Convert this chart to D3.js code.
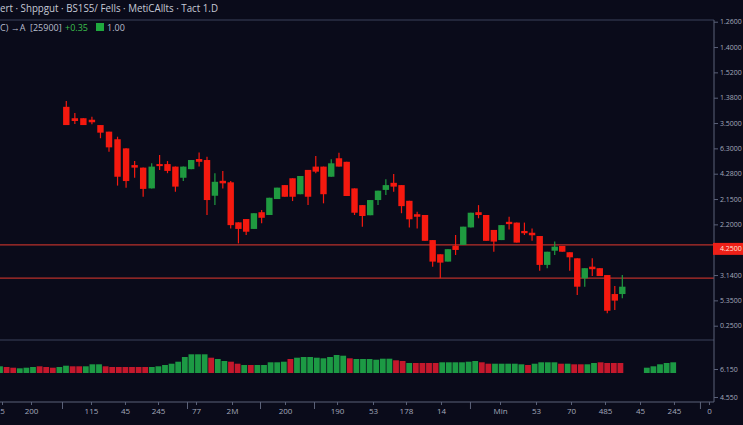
<!DOCTYPE html>
<html><head><meta charset="utf-8">
<script src="https://cdn.jsdelivr.net/npm/d3@7"></script>
<style>
html,body{margin:0;padding:0;background:#0a0b1a;}
svg{display:block;}
text{font-family:"Open Sans","Noto Sans",sans-serif;}
</style></head><body><svg id="c" width="743" height="425"></svg>
<script>
// ---------- data ----------
const titleText = "ert · Shppgut · BS1S5/ Fells · MetiCAllts · Tact 1.D";
const legendSymbol = "C) →A";
const legendCode = "[25900]";
const legendChange = "+0.35";
const legendValue = "1.00";

const candleOpen  = [86.4,81.9,81.9,81.3,79.2,76.6,73.6,70.0,63.4,62.4,54.2,63.8,63.8,62.8,58.4,61.8,65.8,65.4,51.3,57.2,56.6,40.8,42.1,38.2,44.8,43.7,50.0,55.5,58.2,51.9,61.5,62.8,62.8,58.8,66.1,64.7,54.2,47.6,43.6,49.6,53.6,56.4,55.5,49.3,44.0,43.7,33.8,28.2,25.3,31.6,31.9,38.8,44.8,43.7,37.8,33.8,41.0,40.7,37.4,36.7,35.4,24.0,29.6,31.5,29.0,26.6,18.7,23.3,22.7,20.0,12.5,12.5];
const candleHigh  = [88.7,84.0,81.9,82.5,79.2,76.6,74.6,70.0,65.0,62.4,64.1,67.4,65.0,62.8,62.8,65.4,68.4,66.7,60.2,61.1,57.1,40.8,42.1,44.4,45.7,50.5,54.5,55.5,58.2,59.1,61.5,67.0,62.8,65.7,68.3,64.7,54.2,47.6,49.6,53.3,57.8,59.9,55.5,49.3,45.0,43.7,33.8,28.2,30.2,35.8,39.1,44.6,47.6,43.7,37.8,39.7,43.0,40.7,40.7,38.4,35.4,29.2,33.2,31.5,29.0,26.6,22.7,26.6,22.7,20.0,15.7,20.0];
const candleLow   = [79.2,79.6,79.2,79.5,74.0,68.7,55.3,54.5,58.4,50.9,54.2,61.5,60.2,52.9,57.1,61.8,62.8,43.7,47.6,54.2,38.4,32.5,35.8,38.2,40.4,43.7,50.0,50.9,49.2,51.9,47.6,60.2,48.3,58.8,62.8,51.2,43.7,39.1,43.6,47.6,51.6,52.9,44.4,38.8,38.4,33.5,23.3,18.7,25.3,27.9,31.9,38.8,42.4,33.5,29.2,33.8,38.0,32.8,35.8,33.5,21.7,22.7,27.9,29.2,21.7,12.1,15.4,19.6,19.6,4.9,6.2,10.8];
const candleClose = [79.2,80.8,79.2,80.3,76.2,70.4,58.8,57.1,62.4,54.0,62.8,63.0,61.1,54.9,62.8,65.4,64.7,49.6,56.8,56.2,39.7,38.2,37.1,44.4,42.6,50.5,54.5,50.9,50.9,59.1,50.9,60.8,51.9,64.1,62.8,51.2,44.6,43.3,49.6,53.3,55.5,54.9,47.2,42.0,43.0,33.5,25.3,24.9,30.2,29.9,39.1,44.6,43.7,33.5,33.2,39.7,40.1,32.8,36.5,35.7,24.0,29.2,31.2,29.2,27.0,15.4,22.7,22.3,19.6,5.9,9.9,15.4];

const priceTicks = [120,110,100,90,80,70,60,50,40,30,20,10,0];
const priceTickLabels = ["1.2600","1.4000","1.5200","1.3800","3.5000","6.3000","4.2800","2.1500","2.2000","2.3500","3.1400","5.3500","0.2500"];
const levelLines = [31.9, 18.8];
const levelLabel = "4.2500";

const volumeValues = [6.7,6,5.3,4.7,5.3,6,6.7,6,5.3,6,7.3,6.7,6.7,6.7,8.7,8.7,6.7,6,6,6,6,6,6,6,6.7,8,9.3,11.3,16,18.7,18.7,18.7,15.3,14,12,11.3,9.3,8,8,8,8,10.7,10.7,11.3,14,15.3,16,16,15.3,14.7,16,18,17.3,14.7,14,14,14,13.3,14.3,14.3,12.7,12,10,10,10,10,10,10.7,10.7,10.7,10.7,11.3,12,10.7,9.3,9.3,9.3,9.3,9.3,8.7,8,9.3,10.7,10.7,10.7,9.3,9.3,8.7,8.7,8.7,10,10.7,10,10,10,null,null,null,5.3,6.7,8.7,10,10.7];
const volumeDir = ("GRRGGGRRRGGRRGGG"+"RRRRRRR"+"GGGGGGGGG"+"RGGRRGR"+"GGGGG"+"R"+"GGGGGGGG"+"R"+"GGGGGG"+"RRG"+"RRRR"+"GGGGGG"+"RR"+"GGGGG"+"R"+"GGGG"+"RGRRGG"+"RRRR"+"---"+"GGGGG").split("");
const volumeTicks = [4, -24];
const volumeTickLabels = ["6.150","4.550"];

const xTickValues = [-7.53,-4.13,2.89,6.87,10.80,15.61,20.17,27.02,33.75,38.36,42.57,47.09,54.81,59.52,64.17,68.70,73.36,77.88,82.54];
const xTickLabels = ["5","200","115","45","245","77","2M","200","190","53","178","14","Min","53","70","485","45","245","0"];
const xMinorTicks = [-0.50,14.47,23.79,30.77,50.88,81.34];

// ---------- layout ----------
const svg = d3.select("#c");
const W = 743, H = 425;
const axisX = 714, topY = 20, sepY = 340, bottomY = 402;
const bg = "#0a0b1a", lineCol = "#3b425a", axisCol = "#5b6279", txtCol = "#a3a8bb";
const upCol = "#1f9a40", downCol = "#f5190f";
const volUp = "#1c9a44", volDown = "#c4182c";

svg.append("rect").attr("width",W).attr("height",H).attr("fill",bg);

const x = d3.scaleLinear().domain([0,10,20,35,45,60,71]).range([66.3,151.7,230.7,346.7,425,539.7,622.3]);
const y = d3.scaleLinear().domain([0,120]).range([325.7,21.7]);
const xv = d3.scaleLinear().domain([0,102]).range([0,673.2]);
const yv = d3.scaleLinear().domain([0,20]).range([373,353]);

// frame lines
svg.append("line").attr("x1",0).attr("x2",axisX).attr("y1",topY).attr("y2",topY).attr("stroke",lineCol);
svg.append("line").attr("x1",0).attr("x2",axisX).attr("y1",sepY).attr("y2",sepY).attr("stroke",lineCol);

// header
svg.append("text").attr("x",0).attr("y",12).attr("font-size",10).attr("fill","#c6cad7")
  .attr("textLength",218).attr("lengthAdjust","spacingAndGlyphs").text(titleText);
const lg = svg.append("g").attr("font-size",9).attr("fill","#b9bece");
lg.append("text").attr("x",0).attr("y",31).text(legendSymbol);
lg.append("text").attr("x",30).attr("y",31).text(legendCode);
lg.append("text").attr("x",65).attr("y",31).attr("fill","#3cbf4c").text(legendChange);
lg.append("rect").attr("x",96).attr("y",23).attr("width",8).attr("height",8).attr("fill","#1fa83e");
lg.append("text").attr("x",107).attr("y",31).text(legendValue);

// level lines
svg.selectAll("line.level").data(levelLines).join("line").attr("class","level")
  .attr("x1",0).attr("x2",axisX).attr("y1",d=>y(d)).attr("y2",d=>y(d))
  .attr("stroke","#b8302a").attr("stroke-width",1.2);

// candles
const idx = d3.range(candleOpen.length);
const bw = 6.4;
const cg = svg.append("g");
cg.selectAll("line").data(idx).join("line")
  .attr("x1",i=>x(i)).attr("x2",i=>x(i))
  .attr("y1",i=>y(candleHigh[i])).attr("y2",i=>y(candleLow[i]))
  .attr("stroke",i=>candleClose[i]>=candleOpen[i]?upCol:downCol).attr("stroke-width",1.2);
cg.selectAll("rect").data(idx).join("rect")
  .attr("x",i=>x(i)-bw/2).attr("width",bw)
  .attr("y",i=>y(Math.max(candleOpen[i],candleClose[i])))
  .attr("height",i=>Math.max(2,Math.abs(y(candleOpen[i])-y(candleClose[i]))))
  .attr("fill",i=>candleClose[i]>=candleOpen[i]?upCol:downCol);

// volume
const vw = 5.8;
svg.append("g").selectAll("rect").data(d3.range(volumeValues.length).filter(i=>volumeValues[i]!=null)).join("rect")
  .attr("x",i=>xv(i)-vw/2).attr("width",vw)
  .attr("y",i=>yv(volumeValues[i])).attr("height",i=>yv(0)-yv(volumeValues[i]))
  .attr("fill",i=>volumeDir[i]==="G"?volUp:volDown);

// right axis
svg.append("line").attr("x1",axisX).attr("x2",axisX).attr("y1",topY).attr("y2",bottomY).attr("stroke",axisCol);
function styleAxis(size){
  return function(g){
    g.select(".domain").remove();
    g.selectAll(".tick line").attr("stroke",axisCol);
    g.selectAll(".tick text").attr("fill",txtCol).attr("font-size",size).attr("font-family","'Open Sans','Noto Sans',sans-serif");
  };
}
svg.append("g").attr("transform",`translate(${axisX},0)`)
  .call(d3.axisRight(y).tickValues(priceTicks).tickFormat((d,i)=>priceTickLabels[i]).tickSize(4).tickPadding(2))
  .call(styleAxis(7));
svg.append("g").attr("transform",`translate(${axisX},0)`)
  .call(d3.axisRight(yv).tickValues(volumeTicks).tickFormat((d,i)=>volumeTickLabels[i]).tickSize(4).tickPadding(2))
  .call(styleAxis(7));

// level label box
const lb = svg.append("g");
lb.append("rect").attr("x",axisX-1).attr("y",y(levelLines[0])-2).attr("width",W-axisX+1).attr("height",12).attr("fill","#ee2018");
lb.append("text").attr("x",axisX+6).attr("y",y(levelLines[0])+6.5).attr("font-size",7).attr("fill","#ffe6dc").text(levelLabel);

// bottom axis
svg.append("line").attr("x1",0).attr("x2",axisX).attr("y1",bottomY).attr("y2",bottomY).attr("stroke",axisCol);
svg.append("g").attr("transform",`translate(0,${bottomY})`)
  .call(d3.axisBottom(x).tickValues(xTickValues).tickFormat((d,i)=>xTickLabels[i]).tickSize(3).tickPadding(3))
  .call(styleAxis(8));
svg.append("g").attr("transform",`translate(0,${bottomY})`)
  .call(d3.axisBottom(x).tickValues(xMinorTicks).tickFormat("").tickSize(7))
  .call(styleAxis(8));
</script></body></html>
